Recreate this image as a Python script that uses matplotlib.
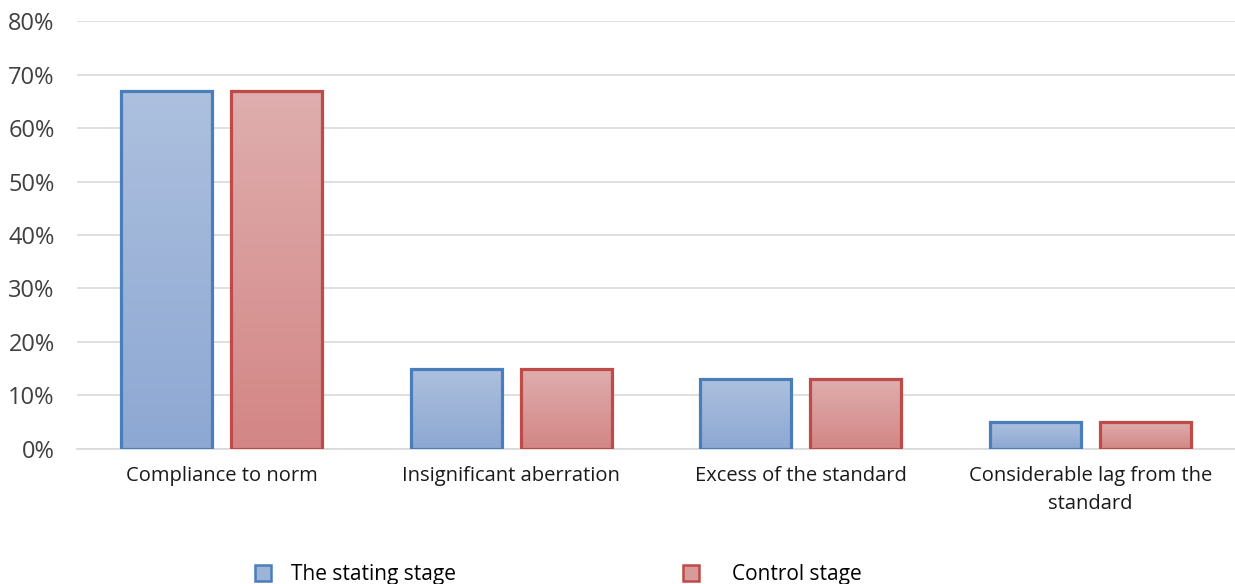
import matplotlib
matplotlib.use("Agg")
import matplotlib.pyplot as plt
import numpy as np
from matplotlib.patches import Rectangle
from matplotlib.colors import LinearSegmentedColormap

categories = ["Compliance to norm", "Insignificant aberration", "Excess of the standard",
              "Considerable lag from the\nstandard"]
series_names = ["The stating stage", "Control stage"]
stating = [67, 15, 13, 5]
control = [67, 15, 13, 5]
yticks = [0, 10, 20, 30, 40, 50, 60, 70, 80]

plt.rcParams['font.family'] = ['Open Sans', 'DejaVu Sans']

fig = plt.figure(figsize=(12.35, 5.84), dpi=100)
ax = fig.add_axes([0.0623, 0.2312, 0.9377, 0.7328])

x = np.arange(len(categories))
w = 0.314
off = 0.19

styles = [
    dict(top="#adc0de", bot="#8da8d3", edge="#4a7ebb"),
    dict(top="#dfaeae", bot="#d38685", edge="#be4b48"),
]

for si, (vals, st) in enumerate(zip([stating, control], styles)):
    xs = x + (-off if si == 0 else off)
    bars = ax.bar(xs, vals, width=w, facecolor="none", edgecolor=st["edge"], linewidth=2.3, zorder=3)
    cmap = LinearSegmentedColormap.from_list("g", [st["bot"], st["top"]])
    for b in bars:
        bx, by = b.get_x(), b.get_y()
        bw, bh = b.get_width(), b.get_height()
        grad = np.linspace(0, 1, 256).reshape(-1, 1)
        im = ax.imshow(grad, cmap=cmap, origin="lower", aspect="auto",
                       extent=[bx, bx + bw, by, by + bh], zorder=2)
        clip = Rectangle((bx, by), bw, bh, transform=ax.transData)
        im.set_clip_path(clip)

ax.set_xlim(-0.5, 3.5)
ax.set_ylim(0, 80)
ax.set_yticks(yticks)
ax.set_yticklabels([f"{t}%" for t in yticks], fontsize=17, color="#404040")
ax.set_xticks(x)
ax.set_xticklabels(categories, fontsize=14.5, color="#1a1a1a", linespacing=1.55)
ax.tick_params(axis="both", length=0)
ax.tick_params(axis="y", pad=16)
ax.tick_params(axis="x", pad=12)
ax.grid(axis="y", color="#d9d9d9", linewidth=1.2, zorder=0)
ax.set_axisbelow(True)
for s in ["top", "right", "left"]:
    ax.spines[s].set_visible(False)
ax.spines["bottom"].set_color("#d9d9d9")
ax.spines["bottom"].set_linewidth(1.2)

h1 = Rectangle((0, 0), 1, 1, facecolor="#9db4d9", edgecolor="#4a7ebb", linewidth=1.8)
h2 = Rectangle((0, 0), 1, 1, facecolor="#d99a9a", edgecolor="#be4b48", linewidth=1.8)
fig.legend([h1], [series_names[0]], loc="center left", bbox_to_anchor=(255 / 1235, 0.016),
           frameon=False, fontsize=15, handlelength=0.75, handleheight=0.75,
           handletextpad=1.0, borderpad=0, borderaxespad=0)
fig.legend([h2], [series_names[1]], loc="center left", bbox_to_anchor=(683 / 1235, 0.016),
           frameon=False, fontsize=15, handlelength=0.75, handleheight=0.75,
           handletextpad=1.6, borderpad=0, borderaxespad=0)

fig.savefig("out.png", dpi=100)
